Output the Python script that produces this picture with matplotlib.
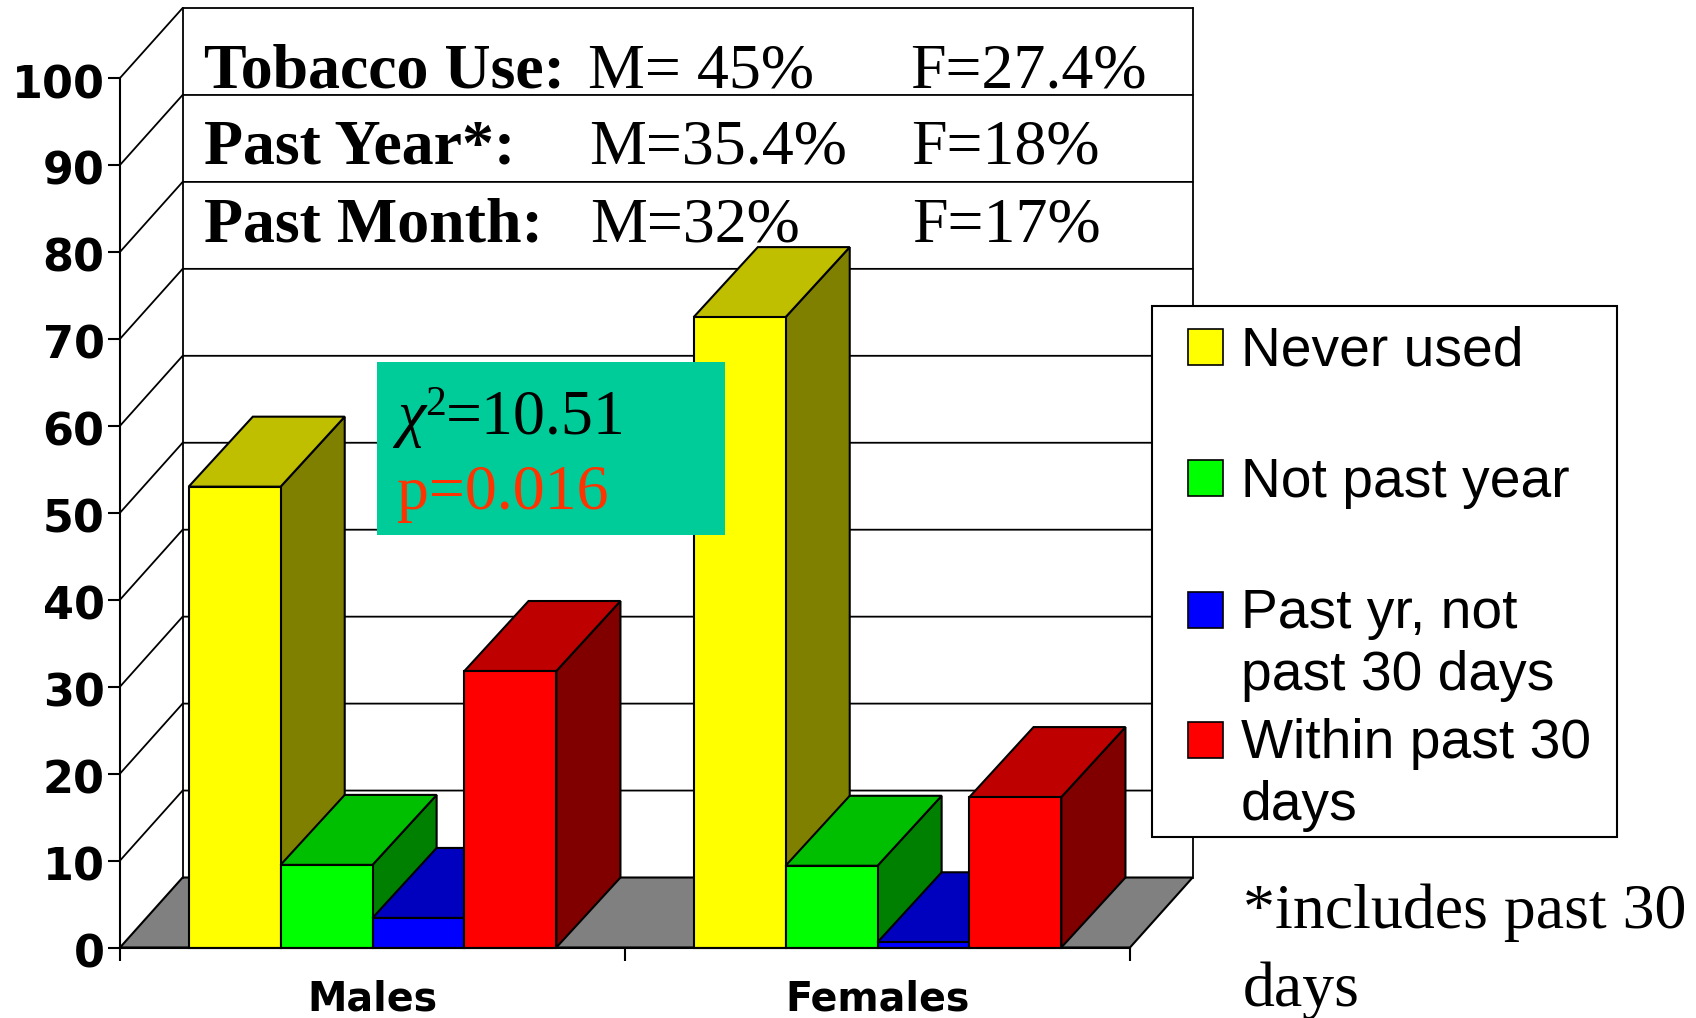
import matplotlib
matplotlib.use("Agg")
import matplotlib.pyplot as plt
from matplotlib.patches import Polygon, Rectangle
from matplotlib.transforms import ScaledTranslation

W, H = 1696, 1018

categories = ["Males", "Females"]
series_names = ["Never used", "Not past year", "Past yr, not\npast 30 days", "Within past 30\ndays"]
males = [53, 9.5, 3.4, 31.8]
females = [72.5, 9.4, 0.6, 17.3]
y_ticks = [0, 10, 20, 30, 40, 50, 60, 70, 80, 90, 100]

front_colors = ["#FFFF00", "#00FF00", "#0000FF", "#FF0000"]
top_colors = ["#BFBF00", "#00BF00", "#0000BF", "#BF0000"]
side_colors = ["#808000", "#008000", "#000080", "#800000"]

summary_labels = ["Tobacco Use:", "Past Year*:", "Past Month:"]
summary_male = ["M= 45%", "M=35.4%", "M=32%"]
summary_female = ["F=27.4%", "F=18%", "F=17%"]

SERIF = "Liberation Serif"
SANS = "Liberation Sans"
LW = 1.5

# depth of the fake 3d box, in data units
DX = 0.124
DY = 8.05
BAR_DX = 0.127
BAR_W = 0.182
GAP = (1 - 4 * BAR_W) / 2


def px_text(x, y, s, **kwargs):
    # x, y are pixels from the top left of the image, y is the baseline
    return fig.text(x / W, 1 - y / H, s, va="baseline", **kwargs)


def draw_bar(ax, x, value, i):
    front = [(x, 0), (x + BAR_W, 0), (x + BAR_W, value), (x, value)]
    top = [(x, value), (x + BAR_W, value), (x + BAR_W + BAR_DX, value + DY), (x + BAR_DX, value + DY)]
    side = [(x + BAR_W, 0), (x + BAR_W + BAR_DX, DY), (x + BAR_W + BAR_DX, value + DY), (x + BAR_W, value)]
    for pts, colors in ((side, side_colors), (top, top_colors), (front, front_colors)):
        ax.add_patch(Polygon(pts, closed=True, facecolor=colors[i], edgecolor="black",
                             linewidth=LW, joinstyle="miter", clip_on=False, zorder=3))


fig = plt.figure(figsize=(W / 100, H / 100), dpi=100, facecolor="white")
ax = fig.add_axes([120 / W, 1 - 947.5 / H, (1130 - 120) / W, (947.5 - 78) / H])
ax.set_xlim(0, 2)
ax.set_ylim(0, 100)
ax.patch.set_visible(False)

# floor and walls
ax.add_patch(Polygon([(0, 0), (2, 0), (2 + DX, DY), (DX, DY)], closed=True, facecolor="#808080",
                     edgecolor="black", linewidth=LW, clip_on=False, zorder=1))
for v in y_ticks[1:]:
    ax.plot([0, DX, 2 + DX], [v, v + DY, v + DY], color="black", lw=1.3, clip_on=False, zorder=1)
ax.plot([DX, DX], [DY, 100 + DY], color="black", lw=1.3, clip_on=False, zorder=1)
ax.plot([2 + DX, 2 + DX], [DY, 100 + DY], color="black", lw=1.3, clip_on=False, zorder=1)

for c, values in enumerate([males, females]):
    for i, value in enumerate(values):
        draw_bar(ax, c + GAP + i * BAR_W, value, i)

for name in ("top", "right"):
    ax.spines[name].set_visible(False)
for name in ("left", "bottom"):
    ax.spines[name].set_linewidth(LW)
    ax.spines[name].set_zorder(4)

ax.set_yticks(y_ticks)
ax.set_yticklabels([str(v) for v in y_ticks], fontfamily="DejaVu Sans", fontweight="bold", fontsize=32)
ax.tick_params(axis="y", length=9, width=LW, pad=2)
shift_down = ScaledTranslation(0, -3 / 100, fig.dpi_scale_trans)
for label in ax.get_yticklabels():
    label.set_transform(label.get_transform() + shift_down)
ax.set_xticks([0, 1, 2])
ax.set_xticklabels([])
ax.tick_params(axis="x", which="major", length=9, width=LW)
ax.set_xticks([0.5, 1.5], minor=True)
ax.set_xticklabels(categories, minor=True, fontfamily="DejaVu Sans", fontweight="bold", fontsize=28.5)
ax.tick_params(axis="x", which="minor", length=0, pad=23)

# summary text over the back wall
for i, base in enumerate([87, 164, 241]):
    px_text(204, base, summary_labels[i], family=SERIF, fontweight="bold", fontsize=46, zorder=6)
    px_text(588 + i, base, summary_male[i], family=SERIF, fontsize=46, zorder=6)
    px_text(910 + i, base, summary_female[i], family=SERIF, fontsize=46, zorder=6)

# stats box
fig.add_artist(Rectangle((377 / W, 1 - 535 / H), 348 / W, 173 / H, transform=fig.transFigure,
                         facecolor="#00CC99", edgecolor="none", zorder=5))
px_text(397, 434, "χ", family=SERIF, fontstyle="italic", fontsize=46, color="black", zorder=6)
px_text(425, 415, "2", family=SERIF, fontsize=30, color="black", zorder=6)
px_text(446, 433, "=10.51", family=SERIF, fontsize=46, color="black", zorder=6)
px_text(397, 509, "p=0.016", family=SERIF, fontsize=46, color="#FF3300", zorder=6)

# legend
fig.add_artist(Rectangle((1152 / W, 1 - 837 / H), 465 / W, 531 / H, transform=fig.transFigure,
                         facecolor="white", edgecolor="black", linewidth=LW, zorder=5))
swatch_tops = [329, 460, 592, 722]
text_bases = [365, 497, 628, 758]
for i, name in enumerate(series_names):
    fig.add_artist(Rectangle((1188 / W, 1 - (swatch_tops[i] + 36) / H), 35 / W, 36 / H,
                             transform=fig.transFigure, facecolor=front_colors[i],
                             edgecolor="black", linewidth=1.2, zorder=6))
    for j, line in enumerate(name.split("\n")):
        px_text(1241, text_bases[i] + j * 62.5, line, family=SANS, fontsize=39.7, zorder=6)

# footnote
px_text(1243, 928, "*includes past 30", family=SERIF, fontsize=46, zorder=6)
px_text(1243, 1006, "days", family=SERIF, fontsize=46, zorder=6)

fig.savefig("out.png", dpi=100)
